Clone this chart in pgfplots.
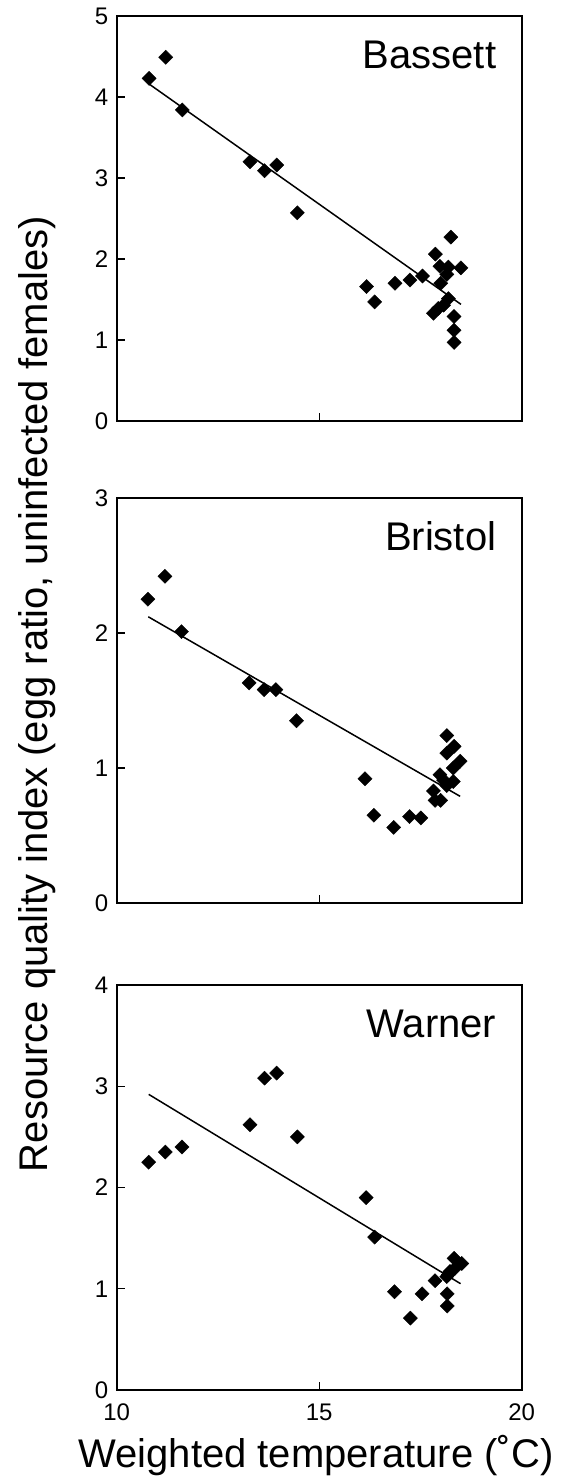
\documentclass[border=0pt]{standalone}
\usepackage{fontspec}
\setmainfont{Liberation Sans}
\usepackage{pgfplots}
\pgfplotsset{compat=1.18}

\pgfplotsset{
  panel/.style={
    scale only axis, width=405pt, height=405pt,
    xmin=10, xmax=20, xtick={10,15,20},
    tick align=inside, xtick pos=bottom, ytick pos=left,
    major tick length=8pt,
    axis line style={line width=1.6pt},
    every tick/.style={black, line width=1.4pt},
    tick label style={font=\fontsize{24}{28}\selectfont},
    yticklabel style={xshift=-5pt},
    xticklabel style={yshift=-10pt},
    /pgf/number format/assume math mode=true,
    clip=false,
  },
  pts/.style={only marks, mark=square*, mark size=5pt,
    mark options={rotate=45, fill=black, draw=black}},
  fit/.style={no marks, black, line width=1.5pt},
}
\newcommand{\paneltitle}[1]{\node[anchor=base east, xshift=-22pt, yshift=-53pt,
  font=\fontsize{40}{48}\selectfont] at (rel axis cs:1,1) {#1};}

\begin{document}
\begin{tikzpicture}
\useasboundingbox (0,0) rectangle (560pt,1479pt);

% Bassett
\begin{axis}[panel, at={(116.7pt,1058pt)}, anchor=south west,
  ymin=0, ymax=5, ytick={0,1,2,3,4,5}, xticklabels={}]
\addplot[pts] coordinates {
(10.80,4.23) (11.21,4.49) (11.62,3.84) (13.29,3.20) (13.65,3.09) (13.95,3.16)
(14.46,2.57) (16.17,1.66) (16.37,1.47) (16.87,1.70) (17.24,1.74) (17.55,1.79)
(17.87,2.06) (18.25,2.27) (17.98,1.91) (18.19,1.90) (18.50,1.89) (18.15,1.81)
(18.00,1.70) (18.19,1.51) (18.07,1.43) (17.82,1.33) (17.94,1.39) (18.33,1.29)
(18.33,1.12) (18.33,0.97)};
\addplot[fit] coordinates {(10.80,4.16) (18.50,1.44)};
\paneltitle{Bassett}
\end{axis}

% Bristol
\begin{axis}[panel, at={(116.7pt,576pt)}, anchor=south west,
  ymin=0, ymax=3, ytick={0,1,2,3}, xticklabels={}]
\addplot[pts] coordinates {
(10.77,2.25) (11.19,2.42) (11.60,2.01) (13.27,1.63) (13.64,1.58) (13.93,1.58)
(14.44,1.35) (16.13,0.92) (16.35,0.65) (16.84,0.56) (17.23,0.64) (17.51,0.63)
(18.15,1.24) (18.33,1.16) (18.15,1.11) (18.48,1.05) (18.31,1.00) (17.98,0.95)
(18.31,0.90) (18.15,0.87) (17.82,0.83) (17.86,0.76) (18.00,0.76) (18.07,0.91)};
\addplot[fit] coordinates {(10.78,2.12) (18.48,0.79)};
\paneltitle{Bristol}
\end{axis}

% Warner
\begin{axis}[panel, at={(116.7pt,89pt)}, anchor=south west,
  ymin=0, ymax=4, ytick={0,1,2,3,4}, xticklabels={10,15,20}]
\addplot[pts] coordinates {
(10.79,2.25) (11.20,2.35) (11.61,2.40) (13.29,2.62) (13.65,3.08) (13.95,3.13)
(14.46,2.50) (16.16,1.90) (16.37,1.51) (16.86,0.97) (17.25,0.71) (17.54,0.95)
(17.86,1.08) (18.16,0.95) (18.16,0.83) (18.33,1.30) (18.52,1.25) (18.23,1.17)
(18.19,1.14) (18.35,1.20) (18.15,1.12)};
\addplot[fit] coordinates {(10.79,2.92) (18.49,1.05)};
\paneltitle{Warner}
\end{axis}

\node[rotate=90, anchor=base, font=\fontsize{40}{48}\selectfont] at (47pt,785pt)
  {Resource quality index (egg ratio, uninfected females)};
\node[anchor=base, font=\fontsize{40}{48}\selectfont] at (316pt,12pt)
  {Weighted temperature (˚C)};
\end{tikzpicture}
\end{document}
